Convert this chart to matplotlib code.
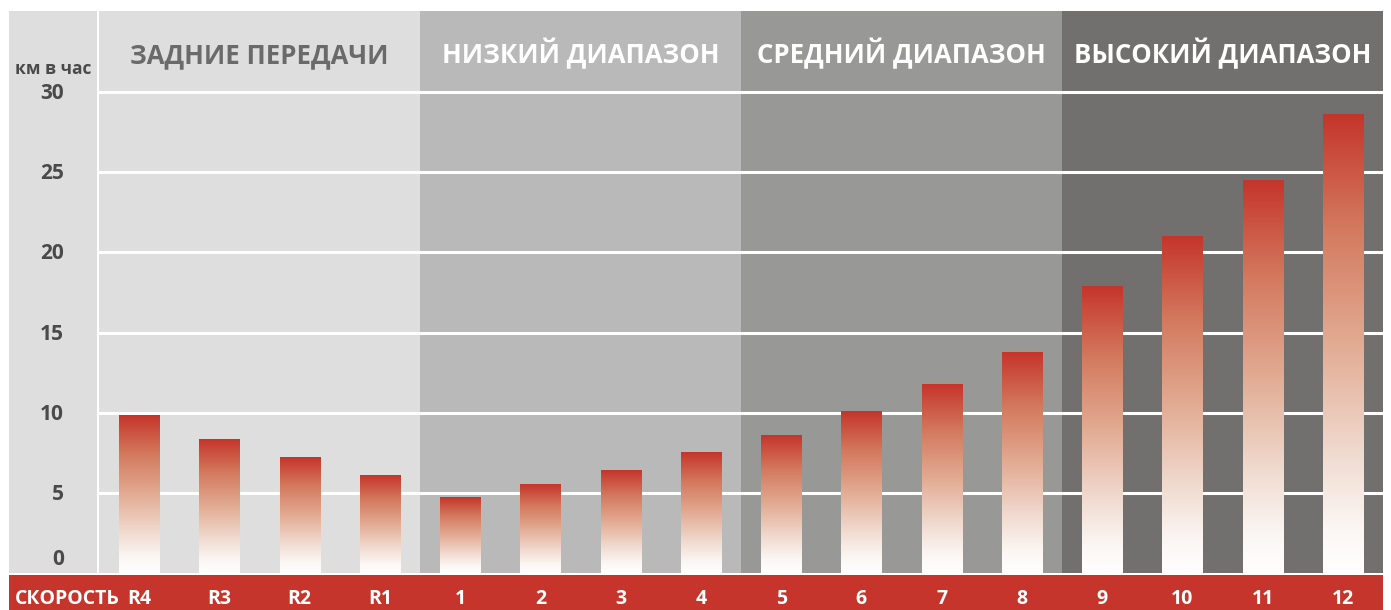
import matplotlib
matplotlib.use('Agg')
import matplotlib.pyplot as plt
import matplotlib.transforms as mtransforms
from matplotlib.colors import LinearSegmentedColormap
from matplotlib.patches import Rectangle
import numpy as np

# data
gears = ['R4', 'R3', 'R2', 'R1', '1', '2', '3', '4', '5', '6', '7', '8', '9', '10', '11', '12']
speeds = [9.8, 8.3, 7.2, 6.1, 4.7, 5.5, 6.4, 7.5, 8.6, 10.1, 11.75, 13.75, 17.9, 21.0, 24.5, 28.6]
sections = ['ЗАДНИЕ ПЕРЕДАЧИ', 'НИЗКИЙ ДИАПАЗОН', 'СРЕДНИЙ ДИАПАЗОН', 'ВЫСОКИЙ ДИАПАЗОН']
yticks = [0, 5, 10, 15, 20, 25, 30]

section_colors = ['#dddedd', '#b9b9b9', '#989897', '#71706e']
header_colors = ['#6a6a6a', 'white', 'white', 'white']
red = '#c5352b'
label_gray = '#4a4a4a'

plt.rcParams['font.family'] = ['Open Sans', 'DejaVu Sans']
plt.rcParams['font.weight'] = 'bold'

W, H = 1391, 610
fig = plt.figure(figsize=(W / 100, H / 100), dpi=100)
fig.patch.set_facecolor('white')


def px_shift(dy):
    # vertical shift in screen pixels (positive = up)
    return mtransforms.ScaledTranslation(0, dy / 100, fig.dpi_scale_trans)


# background panels in figure pixels (drawn below the axes)
fig.patches.append(Rectangle((9 / W, 37 / H), 88 / W, 562 / H, transform=fig.transFigure,
                             facecolor=section_colors[0], edgecolor='none', zorder=-2))
fig.patches.append(Rectangle((9 / W, 0), 1374 / W, 35 / H, transform=fig.transFigure,
                             facecolor=red, edgecolor='none', zorder=-2))

ax = fig.add_axes([99 / W, 37 / H, 1284 / W, 562 / H])
ax.axis('off')

for i, (name, c) in enumerate(zip(sections, section_colors)):
    ax.axvspan(i * 4 - 0.5, i * 4 + 3.5, color=c, lw=0, zorder=0)
    ax.text(i * 4 + 1.5, 31.8, name, ha='center', va='baseline', fontsize=18.5,
            color=header_colors[i], fontweight='bold')

for y in yticks[1:]:
    ax.axhline(y, color='white', lw=2.2, zorder=1)

cmap = LinearSegmentedColormap.from_list('bar', [
    (0.0, '#ffffff'), (0.1, '#fbf6f3'), (0.25, '#f1dcd2'),
    (0.5, '#e2ab93'), (0.75, '#d37a5f'), (1.0, red)])
grad = np.linspace(0, 1, 256).reshape(-1, 1)
bw = 0.5
for i, v in enumerate(speeds):
    ax.imshow(grad, cmap=cmap, origin='lower', aspect='auto',
              extent=(i - bw / 2, i + bw / 2, 0, v), zorder=2, interpolation='bilinear')
ax.set_xlim(-0.5, len(gears) - 0.5)
ax.set_ylim(0, 35.06)

# y labels on the left panel
ytrans = mtransforms.blended_transform_factory(fig.transFigure, ax.transData)
for y in yticks:
    t = ytrans + px_shift(8 if y == 0 else -7)
    ax.text(64 / W, y, str(y), transform=t, ha='right', va='baseline',
            fontsize=15, color=label_gray, fontweight='bold')
fig.text(53 / W, (H - 74) / H, 'км в час', ha='center', va='baseline',
         fontsize=12.5, color=label_gray, fontweight='bold')

# gear labels in the red band
xtrans = mtransforms.blended_transform_factory(ax.transData, fig.transFigure)
for i, g in enumerate(gears):
    ax.text(i, (H - 604) / H, g, transform=xtrans, ha='center', va='baseline',
            fontsize=14, color='white', fontweight='bold')
fig.text(15 / W, (H - 604) / H, 'СКОРОСТЬ', ha='left', va='baseline',
         fontsize=14, color='white', fontweight='bold')

fig.savefig('out.png', dpi=100)
